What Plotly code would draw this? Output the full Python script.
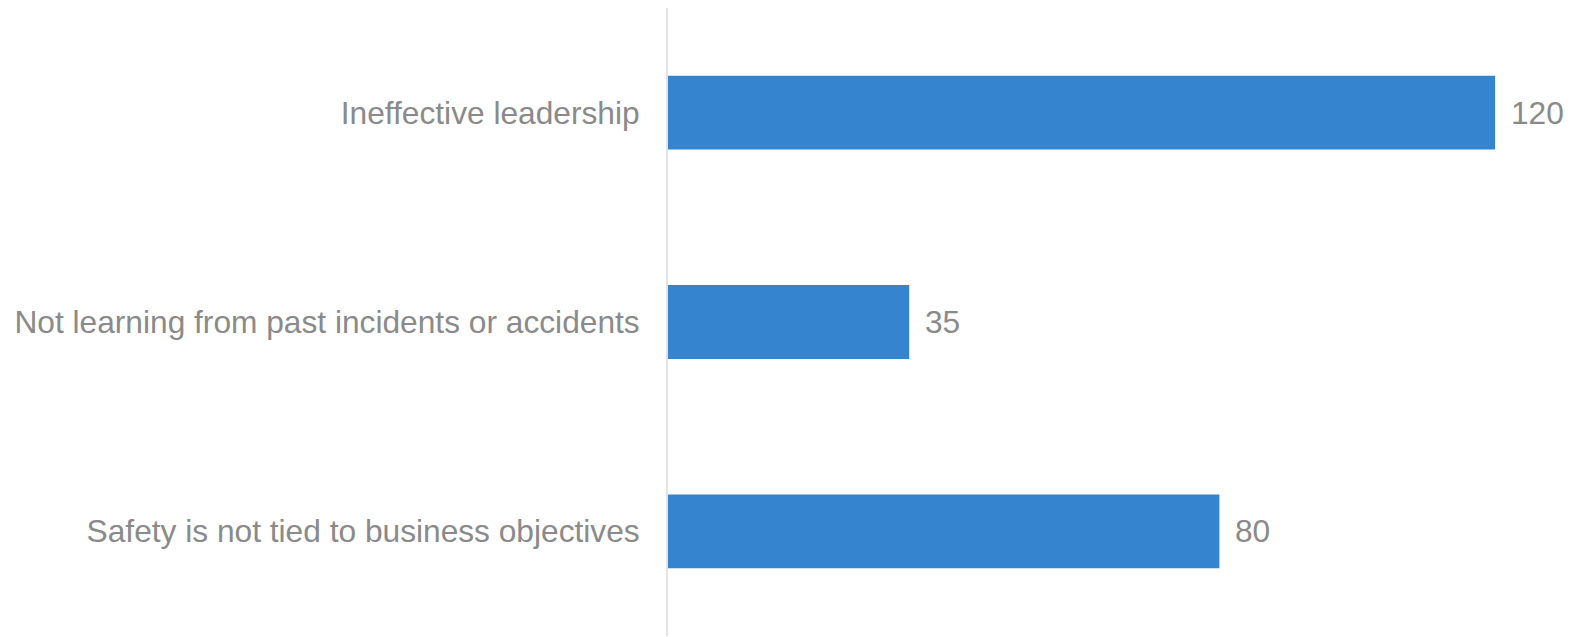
import plotly.graph_objects as go

categories = ["Ineffective leadership", "Not learning from past incidents or accidents", "Safety is not tied to business objectives"]
values = [120, 35, 80]

FONT = "Liberation Sans, Arial, sans-serif"
GRAY = "#8a8a8a"

fig = go.Figure(go.Bar(
    x=values, y=categories, orientation="h",
    marker=dict(color="#3584d0", line=dict(width=0)),
    hoverinfo="x+y",
))
for c, v in zip(categories, values):
    fig.add_annotation(x=v, y=c, text=str(v), showarrow=False, xanchor="left",
                       xshift=14, font=dict(family=FONT, size=31.7, color=GRAY))
fig.update_layout(
    width=1563, height=629,
    margin=dict(l=660, r=7, t=0, b=1, autoexpand=False),
    paper_bgcolor="white", plot_bgcolor="white",
    bargap=0.647,
    showlegend=False,
    font=dict(family=FONT, size=31.7, color=GRAY),
)
fig.update_xaxes(range=[0, 130], visible=False, showgrid=False, zeroline=False)
fig.update_yaxes(autorange="reversed", showline=True, linecolor="#e3e3e3", linewidth=2,
                 showgrid=False, ticks="", ticklabelstandoff=20, automargin=False,
                 tickfont=dict(family=FONT, size=31.7, color=GRAY))
fig.write_html("out.html")
